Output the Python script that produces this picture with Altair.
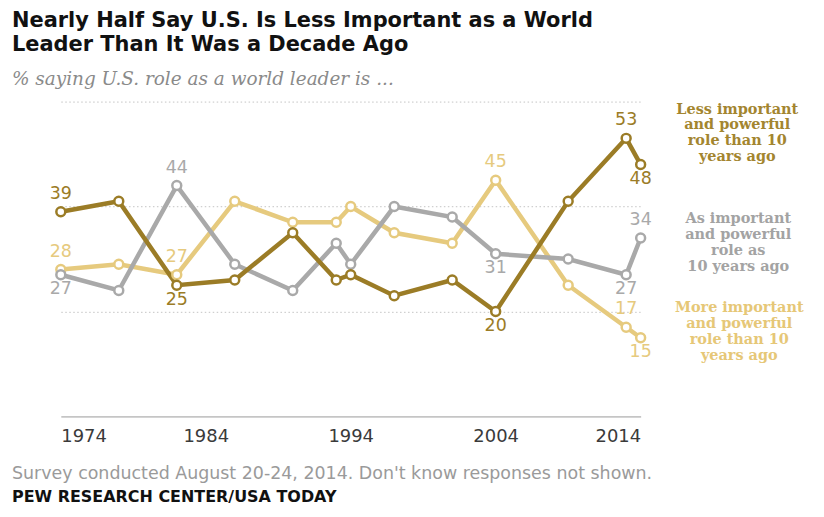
import altair as alt
import pandas as pd

# ---- data ----
years = [1974, 1978, 1982, 1986, 1990, 1993, 1994, 1997, 2001, 2004, 2009, 2013, 2014]
less_important = [39, 41, 25, 26, 35, 26, 27, 23, 26, 20, 41, 53, 48]
as_important = [27, 24, 44, 29, 24, 33, 29, 40, 38, 31, 30, 27, 34]
more_important = [28, 29, 27, 41, 37, 37, 40, 35, 33, 45, 25, 17, 15]

series_names = ["More important", "As important", "Less important"]
series_colors = ["#e6ca7e", "#a9a9a9", "#9b7c26"]

# which points carry a value label, and whether above or below the point
label_years_above = {
    "Less important": [1974, 2013],
    "As important": [1982, 2014],
    "More important": [1974, 1982, 2004, 2013],
}
label_years_below = {
    "Less important": [1982, 2004, 2014],
    "As important": [1974, 2004, 2013],
    "More important": [2014],
}

x_ticks = [1974, 1984, 1994, 2004, 2014]
grid_values = [20, 40, 60]

title_lines = ["Nearly Half Say U.S. Is Less Important as a World",
               "Leader Than  It Was a Decade Ago"]
subtitle = "% saying U.S. role as a world leader is ..."
note = "Survey conducted August 20-24, 2014.  Don't know responses not shown."
source = "PEW RESEARCH CENTER/USA TODAY"
less_text = ["Less important", "and powerful", "role than 10", "years ago"]
as_text = ["As important", "and powerful", "role as", "10 years ago"]
more_text = ["More important", "and powerful", "role than 10", "years ago"]

# ---- tables ----
values_by_series = {
    "More important": more_important,
    "As important": as_important,
    "Less important": less_important,
}
rows = []
for s in series_names:
    for y, v in zip(years, values_by_series[s]):
        rows.append({"series": s, "year": y, "value": v})
df = pd.DataFrame(rows)


def label_table(spec):
    out = []
    for s, ys in spec.items():
        for y in ys:
            out.append({"series": s, "year": y,
                        "value": values_by_series[s][years.index(y)]})
    return pd.DataFrame(out)


above_df = label_table(label_years_above)
below_df = label_table(label_years_below)

x_enc = alt.X("year:Q",
              scale=alt.Scale(domain=[1974, 2014], nice=False, zero=False),
              axis=alt.Axis(values=x_ticks, format="d", title=None, ticks=False,
                            grid=False, labelFont="DejaVu Sans", labelFontSize=18,
                            labelColor="#3a3a3a", labelPadding=11,
                            domainColor="#9a9a9a", domainWidth=1))
y_enc = alt.Y("value:Q",
              scale=alt.Scale(domain=[0, 60], nice=False),
              axis=alt.Axis(values=grid_values, grid=True, gridDash=[1.5, 2.5],
                            gridColor="#c4c4c4", gridWidth=1, labels=False,
                            ticks=False, domain=False, title=None))
color_enc = alt.Color("series:N",
                      scale=alt.Scale(domain=series_names, range=series_colors),
                      legend=None)

base = alt.Chart(df).encode(x=x_enc, y=y_enc, color=color_enc)

lines = base.mark_line(strokeWidth=4.5)
points = base.mark_point(shape="circle", filled=False, fill="white",
                         fillOpacity=1, opacity=1, size=80, strokeWidth=2.5)

lab_above = alt.Chart(above_df).mark_text(
    font="DejaVu Sans", fontSize=17.5, dy=-18, baseline="middle"
).encode(x="year:Q", y="value:Q", text="value:Q", color=color_enc)
lab_below = alt.Chart(below_df).mark_text(
    font="DejaVu Sans", fontSize=17.5, dy=14.5, baseline="middle"
).encode(x="year:Q", y="value:Q", text="value:Q", color=color_enc)

one = alt.Data(values=[{}])


def block(lines_, color, x, y, font, size, weight="normal", align="center",
          line_height=None, style="normal"):
    kw = dict(font=font, fontSize=size, fontWeight=weight, align=align,
              baseline="alphabetic", color=color, fontStyle=style)
    if line_height:
        kw["lineHeight"] = line_height
    return alt.Chart(one).mark_text(**kw).encode(
        x=alt.value(x), y=alt.value(y), text=alt.value(lines_))


ann_less = block(less_text, "#a3852f", 679, 12, "DejaVu Serif", 14.5, "bold",
                 line_height=16)
ann_as = block(as_text, "#a3a3a3", 680, 122, "DejaVu Serif", 14.5, "bold",
               line_height=16)
ann_more = block(more_text, "#e6c777", 681, 211, "DejaVu Serif", 14.5, "bold",
                 line_height=16)

note_t = block(note, "#9a9a9a", -49, 379, "DejaVu Sans", 17.5, align="left")
source_t = block(source, "#111111", -49, 402, "DejaVu Sans", 16, "bold",
                 align="left")

chart = alt.layer(
    lines, points, lab_above, lab_below, ann_less, ann_as, ann_more,
    note_t, source_t
).properties(
    width=582, height=316,
    background="white",
    padding={"left": 53, "top": 93, "right": 176, "bottom": 99},
    autosize=alt.AutoSizeParams(type="none"),
    title=alt.TitleParams(
        text=title_lines, subtitle=subtitle, anchor="start", frame="group",
        dx=-49, offset=13, font="DejaVu Sans", fontSize=21, fontWeight="bold",
        color="#111111", lineHeight=24.5, subtitleFont="DejaVu Serif",
        subtitleFontStyle="italic", subtitleFontSize=18.5,
        subtitleColor="#8a8a8a", subtitlePadding=15
    )
).configure_view(strokeWidth=0, stroke="transparent")

chart.save("out.html", embed_options={"renderer": "svg", "actions": False})
